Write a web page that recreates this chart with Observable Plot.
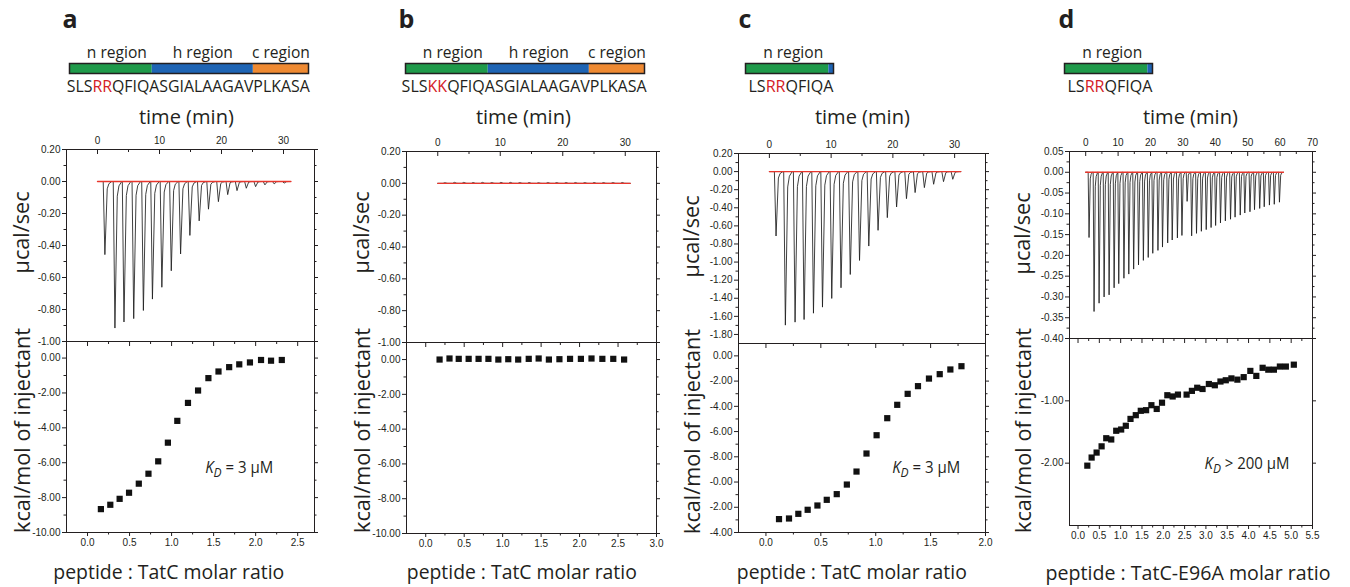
<!DOCTYPE html>
<html>
<head>
<meta charset="utf-8">
<script src="https://cdn.jsdelivr.net/npm/d3@7"></script>
<script src="https://cdn.jsdelivr.net/npm/@observablehq/plot@0.6"></script>
<style>
  html, body { margin: 0; padding: 0; background: #fff; }
  #root { position: relative; width: 1350px; height: 587px; overflow: hidden; background: #fff; }
</style>
</head>
<body>
<div id="root"></div>
<script>
// ------------------------- DATA -------------------------
// Panel a : RR signal peptide vs TatC
const aSpikeTime  = [1.19, 2.81, 4.27, 5.84, 7.4, 8.86, 10.38, 11.9, 13.4, 14.9, 16.4, 17.9, 19.5, 21.0, 22.5, 24.0, 25.5, 27.0, 28.5, 30.1];
const aSpikeValue = [-0.457, -0.916, -0.878, -0.857, -0.806, -0.735, -0.661, -0.558, -0.453, -0.337, -0.246, -0.173, -0.126, -0.082, -0.057, -0.042, -0.032, -0.021, -0.015, -0.010];
const aTraceRange = [0, 31.2];
const aRatio = [0.159, 0.271, 0.382, 0.494, 0.610, 0.725, 0.841, 0.956, 1.068, 1.195, 1.315, 1.438, 1.558, 1.685, 1.805, 1.932, 2.064, 2.183, 2.311];
const aHeat  = [-8.66, -8.41, -8.07, -7.72, -7.20, -6.63, -5.92, -4.85, -3.60, -2.57, -1.86, -1.15, -0.77, -0.52, -0.36, -0.25, -0.11, -0.15, -0.11];

// Panel b : KK signal peptide vs TatC
const bSpikeTime  = [1.12, 2.66, 4.15, 5.64, 7.13, 8.62, 10.1, 11.6, 13.1, 14.6, 16.1, 17.6, 19.0, 20.5, 22.0, 23.5, 25.0, 26.5, 28.0, 29.5];
const bSpikeValue = [0.004, 0.006, 0.006, 0.005, 0.006, 0.005, 0.006, 0.006, 0.005, 0.005, 0.004, 0.005, 0.005, 0.005, 0.005, 0.005, 0.005, 0.005, 0.005, 0.005];
const bTraceRange = [0, 30.8];
const bRatio = [0.18, 0.309, 0.429, 0.558, 0.687, 0.815, 0.944, 1.073, 1.202, 1.339, 1.468, 1.601, 1.738, 1.876, 2.017, 2.155, 2.296, 2.438, 2.579];
const bHeat  = [0.00, 0.06, 0.04, 0.04, 0.04, 0.04, 0.00, 0.02, 0.00, 0.04, 0.06, 0.00, 0.02, 0.04, 0.04, 0.06, 0.04, 0.04, 0.00];

// Panel c : n-region peptide vs TatC
const cSpikeTime  = [1.08, 2.59, 4.16, 5.62, 7.14, 8.6, 10.1, 11.6, 13.1, 14.6, 16.1, 17.6, 19.1, 20.6, 22.2, 23.6, 25.1, 26.6, 28.2, 29.7];
const cSpikeValue = [-0.712, -1.697, -1.664, -1.635, -1.565, -1.498, -1.402, -1.284, -1.137, -0.982, -0.823, -0.649, -0.509, -0.391, -0.299, -0.232, -0.177, -0.140, -0.111, -0.085];
const cTraceRange = [0, 31];
const cRatio = [0.119, 0.210, 0.295, 0.380, 0.469, 0.554, 0.645, 0.737, 0.825, 0.916, 1.008, 1.105, 1.196, 1.291, 1.385, 1.485, 1.583, 1.680, 1.781];
const cHeat  = [-12.94, -12.89, -12.52, -12.20, -11.86, -11.41, -10.96, -10.20, -9.17, -7.74, -6.29, -4.94, -3.88, -3.01, -2.40, -1.80, -1.45, -1.08, -0.82];

// Panel d : n-region peptide vs TatC-E96A
const dSpikeTime  = [1.03, 2.58, 4.13, 5.68, 7.22, 8.77, 10.2, 11.8, 13.3, 14.8, 16.3, 17.8, 19.3, 20.7, 22.3, 23.7, 25.3, 26.7, 28.3, 29.7,
                     31.3, 32.7, 34.2, 35.7, 37.2, 38.7, 40.1, 41.6, 43.1, 44.7, 46.1, 47.7, 49.1, 50.7, 52.1, 53.7, 55.1, 56.7, 58.2, 59.8];
const dSpikeValue = [-0.157, -0.335, -0.315, -0.300, -0.295, -0.278, -0.268, -0.255, -0.245, -0.233, -0.223, -0.212, -0.205, -0.195, -0.188, -0.180, -0.170, -0.163, -0.158, -0.152,
                     -0.070, -0.153, -0.147, -0.142, -0.138, -0.133, -0.128, -0.122, -0.117, -0.113, -0.108, -0.103, -0.098, -0.095, -0.090, -0.087, -0.083, -0.079, -0.077, -0.072];
const dTraceRange = [0, 61];
const dRatio = [0.218, 0.319, 0.436, 0.553, 0.662, 0.779, 0.896, 1.012, 1.121, 1.231, 1.355, 1.472, 1.597, 1.721, 1.846, 1.970, 2.095, 2.220, 2.344,
                2.547, 2.671, 2.796, 2.921, 3.069, 3.209, 3.341, 3.466, 3.598, 3.738, 3.886, 4.042, 4.182, 4.330, 4.463, 4.595, 4.735, 4.875, 5.062];
const dHeat  = [-2.04, -1.91, -1.83, -1.73, -1.60, -1.62, -1.48, -1.46, -1.40, -1.29, -1.23, -1.16, -1.15, -1.07, -1.13, -1.03, -0.91, -0.93, -0.90,
                -0.90, -0.84, -0.79, -0.81, -0.73, -0.75, -0.69, -0.67, -0.64, -0.66, -0.62, -0.52, -0.60, -0.47, -0.50, -0.50, -0.45, -0.45, -0.42];

// normalised injection-peak profile (minutes from peak, fraction of peak)
const spikeProfileT = [-0.27, 0, 0.38, 0.65, 1.1];
const spikeProfileF = [0, 1, 0.1, 0.03, 0];

// tick values and labels
const timeTicks30 = [0, 10, 20, 30];
const timeLabels30 = ["0", "10", "20", "30"];
const timeTicks70 = [0, 10, 20, 30, 40, 50, 60, 70];
const timeLabels70 = ["0", "10", "20", "30", "40", "50", "60", "70"];

const abUpperYTicks = [0.2, 0, -0.2, -0.4, -0.6, -0.8, -1.0];
const abUpperYLabels = ["0.20", "0.00", "-0.20", "-0.40", "-0.60", "-0.80", "-1.00"];
const cUpperYTicks = [0.2, 0, -0.2, -0.4, -0.6, -0.8, -1.0, -1.2, -1.4, -1.6, -1.8];
const cUpperYLabels = ["0.20", "0.00", "-0.20", "-0.40", "-0.60", "-0.80", "-1.00", "-1.20", "-1.40", "-1.60", "-1.80"];
const dUpperYTicks = [0.05, 0, -0.05, -0.10, -0.15, -0.20, -0.25, -0.30, -0.35, -0.40];
const dUpperYLabels = ["0.05", "0.00", "-0.05", "-0.10", "-0.15", "-0.20", "-0.25", "-0.30", "-0.35", "-0.40"];

const abLowerYTicks = [0, -2, -4, -6, -8, -10];
const abLowerYLabels = ["0.00", "-2.00", "-4.00", "-6.00", "-8.00", "-10.00"];
const cLowerYTicks = [0, -2, -4, -6, -8, -10, -12, -14];
const cLowerYLabels = ["0.00", "-2.00", "-4.00", "-6.00", "-8.00", "-0.00", "-2.00", "-4.00"];
const dLowerYTicks = [-1, -2];
const dLowerYLabels = ["-1.00", "-2.00"];

const aRatioTicks = [0, 0.5, 1.0, 1.5, 2.0, 2.5];
const aRatioLabels = ["0.0", "0.5", "1.0", "1.5", "2.0", "2.5"];
const bRatioTicks = [0, 0.5, 1.0, 1.5, 2.0, 2.5, 3.0];
const bRatioLabels = ["0.0", "0.5", "1.0", "1.5", "2.0", "2.5", "3.0"];
const cRatioTicks = [0, 0.5, 1.0, 1.5, 2.0];
const cRatioLabels = ["0.0", "0.5", "1.0", "1.5", "2.0"];
const dRatioTicks = [0, 0.5, 1.0, 1.5, 2.0, 2.5, 3.0, 3.5, 4.0, 4.5, 5.0, 5.5];
const dRatioLabels = ["0.0", "0.5", "1.0", "1.5", "2.0", "2.5", "3.0", "3.5", "4.0", "4.5", "5.0", "5.5"];

// signal-peptide regions (in residues)
const abRegionNames = ["n region", "h region", "c region"];
const abRegionStart = [0, 9, 20];
const abRegionEnd   = [9, 20, 26];
const cdRegionNames = ["n region", ""];
const cdRegionStart = [0, 9];
const cdRegionEnd   = [9, 9.5];
const regionColors  = ["#1f9a4a", "#1e64b4", "#ef8a32"];

// sequences: [before, highlighted, after]
const aSequence = ["SLS", "RR", "QFIQASGIALAAGAVPLKASA"];
const bSequence = ["SLS", "KK", "QFIQASGIALAAGAVPLKASA"];
const cSequence = ["LS", "RR", "QFIQA"];
const dSequence = ["LS", "RR", "QFIQA"];

// ------------------------- RENDERING -------------------------
const SANS = "'Open Sans', 'Noto Sans', sans-serif";
const TICKFONT = "'Liberation Sans', Arial, sans-serif";
const INK = "#231f20";
const RED = "#e8362c";
const SEQRED = "#d42027";
const root = document.getElementById("root");
const mids = a => a.slice(1).map((v, i) => (v + a[i]) / 2);

function place(svg, left, top) {
  svg.style.position = "absolute";
  svg.style.left = left + "px";
  svg.style.top = top + "px";
  root.appendChild(svg);
}

function addText(html, o) {
  const el = document.createElement("div");
  el.innerHTML = html;
  Object.assign(el.style, {
    position: "absolute", whiteSpace: "nowrap", fontFamily: o.family || SANS,
    fontSize: o.size + "px", fontWeight: o.weight || 400, lineHeight: "1",
    color: o.color || INK, left: "0px", top: "0px"
  });
  root.appendChild(el);
  const w = el.getBoundingClientRect().width, h = el.getBoundingClientRect().height;
  const sx = o.width ? o.width / w : 1;
  el.style.transformOrigin = "50% 50%";
  el.style.left = (o.cx - w / 2) + "px";
  if (o.rotate) {
    el.style.top = (o.cy - h / 2) + "px";
    el.style.transform = `rotate(-90deg) scaleX(${sx})`;
  } else {
    el.style.top = (o.baseline - 0.888 * o.size) + "px";
    el.style.transform = `scaleX(${sx})`;
  }
  return el;
}

function buildTrace(times, values, range) {
  const pts = [{t: range[0], v: 0}];
  times.forEach((t, i) => {
    spikeProfileT.forEach((dt, j) => pts.push({t: t + dt, v: values[i] * spikeProfileF[j]}));
  });
  pts.push({t: range[1], v: 0});
  return pts;
}

const plotStyle = {background: "transparent", overflow: "visible", fontFamily: TICKFONT, fontSize: "10px", color: INK};

function upperPlot(p) {
  const mL = 45, mR = 14, mT = 25, mB = 2;
  const W = p.R - p.L, H = p.mid - p.top;
  const trace = buildTrace(p.spikeT, p.spikeV, p.traceRange);
  const yMinor = mids(p.yTicks), tMinor = mids(p.tTicks);
  const svg = Plot.plot({
    width: W + mL + mR, height: H + mT + mB,
    marginLeft: mL, marginRight: mR, marginTop: mT, marginBottom: mB,
    x: {domain: p.tDomain, axis: null},
    y: {domain: p.yDomain, axis: null},
    style: plotStyle,
    marks: [
      Plot.line(trace, {x: "t", y: "v", stroke: "#1e1e1e", strokeWidth: 0.85, clip: true}),
      Plot.line(p.traceRange.map(t => ({t, v: 0})), {x: "t", y: "v", stroke: RED, strokeWidth: 1.4}),
      Plot.frame({stroke: INK}),
      Plot.tickY(p.yTicks, {y: d => d, insetLeft: -4, insetRight: W, stroke: INK}),
      Plot.tickY(yMinor, {y: d => d, insetLeft: -2.5, insetRight: W, stroke: INK}),
      Plot.tickY(p.yTicks, {y: d => d, insetLeft: W, insetRight: -4, stroke: INK}),
      Plot.tickY(yMinor, {y: d => d, insetLeft: W, insetRight: -2.5, stroke: INK}),
      Plot.tickX(p.tTicks, {x: d => d, insetBottom: H - 5, stroke: INK}),
      Plot.tickX(tMinor, {x: d => d, insetBottom: H - 3, stroke: INK}),
      Plot.text(p.yTicks, {y: d => d, text: (d, i) => p.yLabels[i], frameAnchor: "left", textAnchor: "end", dx: -6, fill: INK}),
      Plot.text(p.tTicks, {x: d => d, text: (d, i) => p.tLabels[i], frameAnchor: "top", dy: -12.5, fill: INK})
    ]
  });
  place(svg, p.L - mL, p.top - mT);
}

function lowerPlot(p) {
  const mL = 45, mR = 14, mT = 2, mB = 30;
  const W = p.R - p.L, H = p.bottom - p.mid;
  const yMinor = p.yMinor ? mids(p.yTicks) : [];
  const xMinor = mids(p.xTicks);
  const pts = p.ratio.map((r, i) => ({r, q: p.heat[i]}));
  const svg = Plot.plot({
    width: W + mL + mR, height: H + mT + mB,
    marginLeft: mL, marginRight: mR, marginTop: mT, marginBottom: mB,
    x: {domain: p.xDomain, axis: null},
    y: {domain: p.yDomain, axis: null},
    style: plotStyle,
    marks: [
      Plot.frame({stroke: INK}),
      Plot.tickY(p.yTicks, {y: d => d, insetLeft: -4, insetRight: W, stroke: INK}),
      Plot.tickY(yMinor, {y: d => d, insetLeft: -2.5, insetRight: W, stroke: INK}),
      Plot.tickY(p.yTicks, {y: d => d, insetLeft: W, insetRight: -4, stroke: INK}),
      Plot.tickY(yMinor, {y: d => d, insetLeft: W, insetRight: -2.5, stroke: INK}),
      Plot.tickX(p.xTicks, {x: d => d, insetBottom: H - 5, stroke: INK}),
      Plot.tickX(xMinor, {x: d => d, insetBottom: H - 3, stroke: INK}),
      Plot.tickX(p.xTicks, {x: d => d, insetTop: H, insetBottom: -4, stroke: INK}),
      Plot.tickX(xMinor, {x: d => d, insetTop: H, insetBottom: -2.5, stroke: INK}),
      Plot.dot(pts, {x: "r", y: "q", symbol: "square", r: 3.5, fill: "#111", stroke: "none"}),
      Plot.text(p.yTicks, {y: d => d, text: (d, i) => p.yLabels[i], frameAnchor: "left", textAnchor: "end", dx: -6, fill: INK}),
      Plot.text(p.xTicks, {x: d => d, text: (d, i) => p.xLabels[i], frameAnchor: "bottom", dy: 13, fill: INK})
    ]
  });
  place(svg, p.L - mL, p.mid - mT);
}

function headerPlot(h) {
  const mX = 40, mT = 31, mB = 3;
  const W = h.barR - h.barL;
  const regions = h.start.map((s, i) => ({s, e: h.end[i], name: h.names[i], color: regionColors[i]}));
  const labelled = regions.filter(r => r.name);
  const labelOpts = {x: r => (r.s + r.e) / 2, text: "name", frameAnchor: "top", dy: -17, fontSize: 15.6, fontFamily: SANS, fill: INK};
  const svg = Plot.plot({
    width: W + 2 * mX, height: mT + 10 + mB,
    marginLeft: mX, marginRight: mX, marginTop: mT, marginBottom: mB,
    x: {domain: h.domain, axis: null},
    color: {type: "identity"},
    style: plotStyle,
    marks: [
      Plot.rect(regions, {x1: "s", x2: "e", fill: d => d.color}),
      Plot.frame({stroke: INK, strokeWidth: 1.5}),
      // the n-region label sits slightly right of the green centre in the reference
      Plot.text(labelled.slice(0, 1), {...labelOpts, dx: 6}),
      Plot.text(labelled.slice(1), labelOpts)
    ]
  });
  place(svg, h.barL - mX, 63 - mT);
}

function sequence(seq, cx, width) {
  addText(`${seq[0]}<span style="color:${SEQRED}">${seq[1]}</span>${seq[2]}`, {cx, baseline: 92.5, size: 17, width});
}

// ---- panel definitions ----
const panels = [
  {letter: "a", lx: 70, L: 66, R: 314, top: 149, mid: 341, bottom: 532,
   spikeT: aSpikeTime, spikeV: aSpikeValue, traceRange: aTraceRange, tDomain: [-5, 35], tTicks: timeTicks30, tLabels: timeLabels30,
   upY: [-1, 0.2], upYTicks: abUpperYTicks, upYLabels: abUpperYLabels,
   ratio: aRatio, heat: aHeat, xDomain: [-0.25, 2.7], xTicks: aRatioTicks, xLabels: aRatioLabels,
   lowY: [-10, 0.95], lowYTicks: abLowerYTicks, lowYLabels: abLowerYLabels, yMinor: true,
   header: {barL: 69, barR: 308, domain: [0, 26], names: abRegionNames, start: abRegionStart, end: abRegionEnd},
   seq: aSequence, seqCx: 188.5, seqW: 243, timeCx: 186,
   yTitleX: 22, ucalY: 232, kcalY: 430, xTitle: "peptide : TatC molar ratio", xTitleCx: 168.5, xTitleW: 231, xTitleBase: 579.5,
   kd: "= 3 µM", kdCx: 239, kdW: 68, kdBase: 474},
  {letter: "b", lx: 406.5, L: 406, R: 656, top: 151, mid: 342, bottom: 533,
   spikeT: bSpikeTime, spikeV: bSpikeValue, traceRange: bTraceRange, tDomain: [-5, 35], tTicks: timeTicks30, tLabels: timeLabels30,
   upY: [-1, 0.2], upYTicks: abUpperYTicks, upYLabels: abUpperYLabels,
   ratio: bRatio, heat: bHeat, xDomain: [-0.25, 3.0], xTicks: bRatioTicks, xLabels: bRatioLabels,
   lowY: [-10, 0.98], lowYTicks: abLowerYTicks, lowYLabels: abLowerYLabels, yMinor: true,
   header: {barL: 405, barR: 644, domain: [0, 26], names: abRegionNames, start: abRegionStart, end: abRegionEnd},
   seq: bSequence, seqCx: 524.5, seqW: 245, timeCx: 523.5,
   yTitleX: 362, ucalY: 232, kcalY: 430, xTitle: "peptide : TatC molar ratio", xTitleCx: 521.7, xTitleW: 230, xTitleBase: 579.5,
   kd: null},
  {letter: "c", lx: 745, L: 738, R: 985, top: 153, mid: 343, bottom: 532,
   spikeT: cSpikeTime, spikeV: cSpikeValue, traceRange: cTraceRange, tDomain: [-5, 35], tTicks: timeTicks30, tLabels: timeLabels30,
   upY: [-1.9, 0.2], upYTicks: cUpperYTicks, upYLabels: cUpperYLabels,
   ratio: cRatio, heat: cHeat, xDomain: [-0.25, 2.0], xTicks: cRatioTicks, xLabels: cRatioLabels,
   lowY: [-14, 0.98], lowYTicks: cLowerYTicks, lowYLabels: cLowerYLabels, yMinor: true,
   header: {barL: 745, barR: 833, domain: [0, 9.5], names: cdRegionNames, start: cdRegionStart, end: cdRegionEnd},
   seq: cSequence, seqCx: 790.5, seqW: 85, timeCx: 862.5,
   yTitleX: 692, ucalY: 236, kcalY: 431, xTitle: "peptide : TatC molar ratio", xTitleCx: 852, xTitleW: 230, xTitleBase: 579.5,
   kd: "= 3 µM", kdCx: 926, kdW: 68, kdBase: 474},
  {letter: "d", lx: 1066.5, L: 1069, R: 1312, top: 151, mid: 338, bottom: 525,
   spikeT: dSpikeTime, spikeV: dSpikeValue, traceRange: dTraceRange, tDomain: [-5, 70], tTicks: timeTicks70, tLabels: timeLabels70,
   upY: [-0.4, 0.05], upYTicks: dUpperYTicks, upYLabels: dUpperYLabels,
   ratio: dRatio, heat: dHeat, xDomain: [-0.2, 5.5], xTicks: dRatioTicks, xLabels: dRatioLabels,
   lowY: [-3, 0], lowYTicks: dLowerYTicks, lowYLabels: dLowerYLabels, yMinor: false,
   header: {barL: 1064, barR: 1152, domain: [0, 9.5], names: cdRegionNames, start: cdRegionStart, end: cdRegionEnd},
   seq: dSequence, seqCx: 1109.5, seqW: 85, timeCx: 1190,
   yTitleX: 1023, ucalY: 233, kcalY: 430, xTitle: "peptide : TatC-E96A molar ratio", xTitleCx: 1188, xTitleW: 285, xTitleBase: 580,
   kd: "&gt; 200 µM", kdCx: 1247.5, kdW: 85, kdBase: 469.5}
];

panels.forEach(p => {
  // header
  addText(p.letter, {cx: p.lx, baseline: 28, size: 25, weight: 700});
  headerPlot(p.header);
  sequence(p.seq, p.seqCx, p.seqW);
  addText("time (min)", {cx: p.timeCx, baseline: 125, size: 20, width: 95});
  // plots
  upperPlot({L: p.L, R: p.R, top: p.top, mid: p.mid, spikeT: p.spikeT, spikeV: p.spikeV, traceRange: p.traceRange,
             tDomain: p.tDomain, tTicks: p.tTicks, tLabels: p.tLabels, yDomain: p.upY, yTicks: p.upYTicks, yLabels: p.upYLabels});
  lowerPlot({L: p.L, R: p.R, mid: p.mid, bottom: p.bottom, ratio: p.ratio, heat: p.heat,
             xDomain: p.xDomain, xTicks: p.xTicks, xLabels: p.xLabels,
             yDomain: p.lowY, yTicks: p.lowYTicks, yLabels: p.lowYLabels, yMinor: p.yMinor});
  // axis titles
  addText("µcal/sec", {cx: p.yTitleX, cy: p.ucalY, size: 21, width: 82, rotate: true});
  addText("kcal/mol of injectant", {cx: p.yTitleX, cy: p.kcalY, size: 21, width: 205, rotate: true});
  addText(p.xTitle, {cx: p.xTitleCx, baseline: p.xTitleBase, size: 20.5, width: p.xTitleW});
  if (p.kd) {
    addText(`<i>K</i><span style="position:relative;top:0.32em;font-size:0.8em;font-style:italic">D</span> ${p.kd}`,
            {cx: p.kdCx, baseline: p.kdBase, size: 15.5, width: p.kdW});
  }
});
</script>
</body>
</html>
